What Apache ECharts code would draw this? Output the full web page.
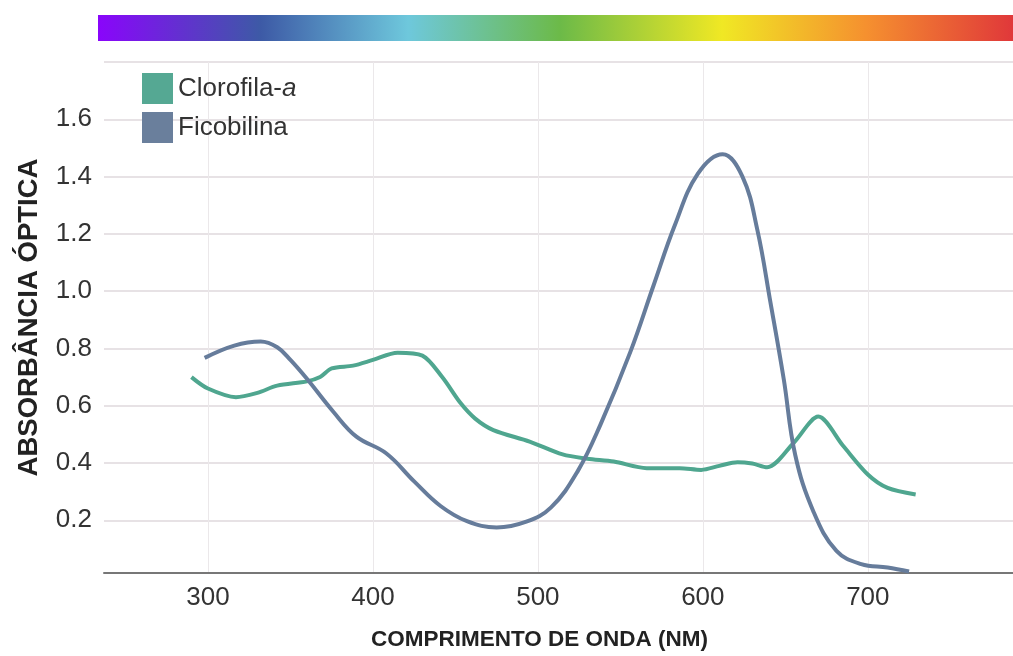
<!DOCTYPE html>
<html lang="pt">

<head>
    <meta charset="UTF-8">
    <title>Absorbância óptica</title>
    <style>
        html, body { margin: 0; padding: 0; background: #fff; }
        #chart { width: 1013px; height: 656px; }
    </style>
</head>

<body>
    <div id="chart"></div>
</body>
<script src="https://cdn.jsdelivr.net/npm/echarts@6/dist/echarts.min.js"></script>

<script>
    // dados: [comprimento de onda (nm), absorbância]
    var clorofila = [
        [290, 0.70], [300, 0.66], [317, 0.63], [330, 0.645], [342, 0.67], [360, 0.685],
        [368, 0.70], [375, 0.73], [388, 0.74], [400, 0.76], [415, 0.785], [430, 0.775],
        [442, 0.70], [453, 0.61], [462, 0.555], [473, 0.515], [495, 0.475], [515, 0.43],
        [530, 0.415], [546, 0.405], [566, 0.382], [586, 0.382], [599, 0.376], [610, 0.39],
        [621, 0.403], [630, 0.398], [639, 0.385], [655, 0.47], [670, 0.562], [685, 0.46],
        [700, 0.36], [712, 0.313], [729, 0.29]
    ];
    var ficobilina = [
        [298, 0.767], [316, 0.81], [332, 0.824], [342, 0.804], [350, 0.76], [360, 0.694],
        [376, 0.579], [390, 0.492], [408, 0.434], [425, 0.336], [441, 0.25], [457, 0.197],
        [475, 0.175], [493, 0.195], [508, 0.245], [524, 0.37], [538, 0.535], [556, 0.787],
        [570, 1.018], [583, 1.23], [597, 1.41], [612, 1.478], [624, 1.40], [633, 1.215],
        [641, 0.96], [649, 0.694], [656, 0.428], [667, 0.231], [681, 0.093], [696, 0.047],
        [712, 0.035], [725, 0.021]
    ];
    var xTicks = [300, 400, 500, 600, 700];
    var yTicks = [0.2, 0.4, 0.6, 0.8, 1.0, 1.2, 1.4, 1.6, 1.8];
    var yLabels = [0.2, 0.4, 0.6, 0.8, 1.0, 1.2, 1.4, 1.6];

    var fonte = '"Liberation Sans", Arial, sans-serif';
    var mChart = echarts.init(document.getElementById('chart'));

    var option = {
        animation: false,
        textStyle: { fontFamily: fonte },
        grid: { left: 104, right: 0, top: 62, bottom: 80 },
        // faixa do espectro visível
        graphic: [{
            type: 'rect',
            left: 98,
            top: 15,
            shape: { width: 915, height: 26 },
            style: {
                fill: new echarts.graphic.LinearGradient(0, 0, 1, 0, [
                    { offset: 0, color: '#8a05fb' },
                    { offset: 0.178, color: '#3d5aa6' },
                    { offset: 0.339, color: '#6ec8dc' },
                    { offset: 0.505, color: '#6cba48' },
                    { offset: 0.682, color: '#f0e824' },
                    { offset: 0.84, color: '#f5902f' },
                    { offset: 1, color: '#e0383a' }
                ])
            }
        }],
        legend: {
            orient: 'vertical',
            left: 142,
            top: 73,
            padding: 0,
            itemWidth: 31,
            itemHeight: 31,
            itemGap: 8,
            icon: 'rect',
            data: ['Clorofila-a', 'Ficobilina'],
            formatter: function (name) {
                if (name === 'Clorofila-a') return '{n|Clorofila-}{i|a}';
                return '{n|' + name + '}';
            },
            textStyle: {
                rich: {
                    n: { fontSize: 26, color: '#333', fontFamily: fonte },
                    i: { fontSize: 26, color: '#333', fontStyle: 'italic', fontFamily: fonte }
                }
            }
        },
        xAxis: {
            type: 'value',
            min: 237,
            max: 788,
            name: 'COMPRIMENTO DE ONDA (NM)',
            nameLocation: 'middle',
            nameGap: 55,
            nameTextStyle: { fontSize: 22.5, fontWeight: 'bold', color: '#222', padding: [0, 38, 0, 0] },
            axisLine: { show: true, lineStyle: { color: '#777', width: 2 } },
            axisTick: { show: false, customValues: xTicks },
            axisLabel: { customValues: xTicks, fontSize: 26, color: '#333', margin: 12 },
            splitLine: { show: true, lineStyle: { color: '#ebe8ea', width: 1 } }
        },
        yAxis: {
            type: 'value',
            min: 0.016,
            max: 1.8,
            name: 'ABSORBÂNCIA ÓPTICA',
            nameLocation: 'middle',
            nameGap: 61,
            nameTextStyle: { fontSize: 27.5, fontWeight: 'bold', color: '#222' },
            axisLine: { show: false },
            axisTick: { show: false, customValues: yTicks },
            axisLabel: {
                customValues: yLabels,
                fontSize: 26,
                color: '#333',
                margin: 12,
                formatter: function (v) { return v.toFixed(1); }
            },
            splitLine: { show: true, lineStyle: { color: '#dfd9dc', width: 1.5 } }
        },
        series: [
            {
                name: 'Clorofila-a',
                type: 'line',
                data: clorofila,
                smooth: 0.3,
                showSymbol: false,
                color: '#55a893',
                lineStyle: { width: 4, color: '#4fa68f' }
            },
            {
                name: 'Ficobilina',
                type: 'line',
                data: ficobilina,
                smooth: 0.4,
                showSymbol: false,
                color: '#6a7f9c',
                lineStyle: { width: 4, color: '#667c9b' }
            }
        ]
    };

    mChart.setOption(option);
</script>

</html>
